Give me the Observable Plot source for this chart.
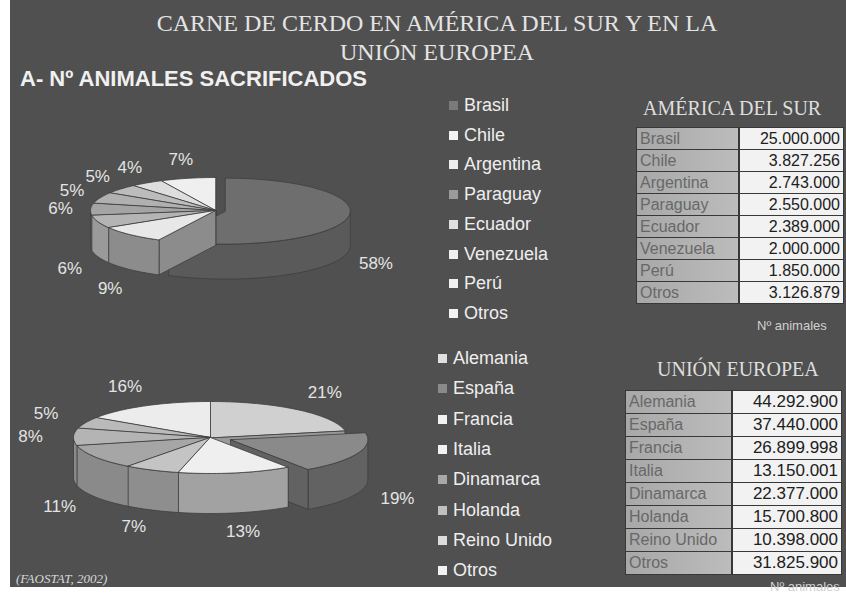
<!DOCTYPE html>
<html><head><meta charset="utf-8">
<script src="https://cdn.jsdelivr.net/npm/d3@7"></script>
<script src="https://cdn.jsdelivr.net/npm/@observablehq/plot@0.6"></script>
<style>
body{margin:0;background:#fff;width:846px;height:593px;overflow:hidden;position:relative;font-family:"Liberation Sans",Arial,sans-serif}
#slide{position:absolute;left:10px;top:0;width:836px;height:587px;background:#505050}
.abs{position:absolute;white-space:nowrap}
.title{font-family:"Liberation Serif","Times New Roman",serif;font-size:24px;color:#e4e4e4;text-align:center;line-height:28px;left:37px;width:800px}
.sub{font-weight:bold;font-size:22px;color:#f0f0f0;left:20px;line-height:24px}
.head{font-family:"Liberation Serif","Times New Roman",serif;font-size:20px;color:#dedede;line-height:24px}
.leg{font-size:18px;color:#eeeeee;line-height:22px}
.sw{display:inline-block;width:9px;height:9px;margin-right:6px;vertical-align:1px}
.tbl{position:absolute;background:#383838;padding:1px 0 0 1px}
.row{display:flex;margin-bottom:1px}
.c1{background:linear-gradient(90deg,#a8a8a8,#bcbcbc);color:#686868;padding-left:3px;box-sizing:border-box;margin-right:2px}
.c2{background:#f2f2f2;color:#202020;text-align:right;padding-right:3px;box-sizing:border-box;margin-right:1px}
.note{font-size:13px;color:#d0d0d0}
.cap{font-family:"Liberation Serif",serif;font-style:italic;font-size:13px;color:#d8d8d8}
</style></head><body>
<div id="slide"></div>
<script>
// ---------- data ----------
const saCountries = ["Brasil","Chile","Argentina","Paraguay","Ecuador","Venezuela","Perú","Otros"];
const saValues = [25000000,3827256,2743000,2550000,2389000,2000000,1850000,3126879];
const saPctLabels = ["58%","9%","6%","6%","5%","5%","4%","7%"];
const euCountries = ["Alemania","España","Francia","Italia","Dinamarca","Holanda","Reino Unido","Otros"];
const euValues = [44292900,37440000,26899998,13150001,22377000,15700800,10398000,31825900];
const euPctLabels = ["21%","19%","13%","7%","11%","8%","5%","16%"];

// ---------- styles ----------
const saTop  = ["#6e6e6e","#e8e8e8","#b4b4b4","#a4a4a4","#b0b0b0","#bcbcbc","#dedede","#efefef"];
const saSide = ["#5a5a5a","#8c8c8c","#9a9a9a","#7a7a7a","#7c7c7c","#808080","#999999","#a0a0a0"];
const saSw   = ["#7a7a7a","#f2f2f2","#eeeeee","#9a9a9a","#e0e0e0","#f0f0f0","#f0f0f0","#f2f2f2"];
const saExplode = [10,0,0,0,0,0,0,0];
const euTop  = ["#d0d0d0","#8a8a8a","#efefef","#c4c4c4","#a6a6a6","#b4b4b4","#bababa","#ececec"];
const euSide = ["#9a9a9a","#626262","#a2a2a2","#8e8e8e","#8a8a8a","#8a8a8a","#909090","#a0a0a0"];
const euSw   = ["#e0e0e0","#8a8a8a","#f2f2f2","#f2f2f2","#a8a8a8","#c0c0c0","#dcdcdc","#f2f2f2"];
const euExplode = [0,22,0,0,0,0,0,0];

const body = d3.select("body");

function pie3d(o) {
  const arcs = d3.pie().sort(null).value(d => d)(o.values);
  const step = Math.PI / 90;
  const rows = [];
  let id = 0;
  const P = (s, t, dz) => ({x: s.ox + o.rx * Math.sin(t), y: s.oy + o.ry * Math.cos(t) - dz});
  const slices = arcs.map((a, i) => {
    const mid = (a.startAngle + a.endAngle) / 2;
    const e = o.explode[i];
    return {i, a0: a.startAngle, a1: a.endAngle, mid,
      ox: e * Math.sin(mid), oy: e * Math.cos(mid) * o.ry / o.rx};
  });
  const arcPts = (s, lo, hi, dz) => {
    const pts = [];
    const n = Math.max(2, Math.ceil((hi - lo) / step));
    for (let k = 0; k <= n; k++) pts.push(P(s, lo + (hi - lo) * k / n, dz));
    return pts;
  };
  const poly = (pts, fill) => { id++; pts.forEach(p => rows.push({id, x: p.x, y: p.y, fill})); };
  const order = slices.slice().sort((a, b) => Math.cos(b.mid) - Math.cos(a.mid));
  for (const s of order) {
    const side = o.side[s.i];
    const c0 = {x: s.ox, y: s.oy}, c1 = {x: s.ox, y: s.oy - o.depth};
    if (Math.sin(s.a0) < -1e-6) poly([c0, P(s, s.a0, 0), P(s, s.a0, o.depth), c1], side);
    if (Math.sin(s.a1) > 1e-6) poly([c0, P(s, s.a1, 0), P(s, s.a1, o.depth), c1], side);
    const lo = Math.max(s.a0, Math.PI / 2), hi = Math.min(s.a1, 3 * Math.PI / 2);
    if (lo < hi) poly([...arcPts(s, lo, hi, 0), ...arcPts(s, lo, hi, o.depth).reverse()], side);
    poly([c0, ...arcPts(s, s.a0, s.a1, 0)], o.top[s.i]);
  }
  const labels = slices.map(s => ({
    x: s.ox + o.lx * Math.sin(s.mid),
    y: s.oy + o.ly * Math.cos(s.mid) - (Math.cos(s.mid) < 0 ? o.ld : 0),
    text: o.labels[s.i]
  }));
  const chart = Plot.plot({
    width: o.width, height: o.height, margin: 0,
    x: {domain: [-o.cx, o.width - o.cx], axis: null},
    y: {domain: [o.cy - o.height, o.cy], axis: null},
    color: {type: "identity"},
    style: {background: "transparent", overflow: "visible"},
    marks: [
      Plot.line(rows, {x: "x", y: "y", z: "id", fill: "fill", stroke: "#3e3e3e", strokeWidth: 0.8, curve: "linear-closed"}),
      Plot.text(labels, {x: "x", y: "y", text: "text", fill: "#e4e4e4", fontSize: 17, fontFamily: "Liberation Sans"})
    ]
  });
  d3.select(chart).style("position", "absolute").style("left", o.left + "px").style("top", o.topPx + "px");
  document.body.appendChild(chart);
}

pie3d({values: saValues, labels: saPctLabels, top: saTop, side: saSide, explode: saExplode,
  rx: 125, ry: 33, depth: 35, lx: 155, ly: 52, ld: 40,
  width: 430, height: 230, cx: 215, cy: 110, left: 0, topPx: 100});
pie3d({values: euValues, labels: euPctLabels, top: euTop, side: euSide, explode: euExplode,
  rx: 137, ry: 36, depth: 40, lx: 180, ly: 58, ld: 37,
  width: 430, height: 247, cx: 210, cy: 97, left: 0, topPx: 340});

// ---------- text ----------
body.append("div").attr("class", "abs title").style("top", "9px").text("CARNE DE CERDO EN AMÉRICA DEL SUR Y EN LA");
body.append("div").attr("class", "abs title").style("top", "38px").text("UNIÓN EUROPEA");
body.append("div").attr("class", "abs sub").style("top", "67px").text("A- Nº ANIMALES SACRIFICADOS");
body.append("div").attr("class", "abs cap").style("left", "16px").style("top", "571px").text("(FAOSTAT, 2002)");

function legend(names, colors, left, top0, gap) {
  names.forEach((n, i) => {
    const d = body.append("div").attr("class", "abs leg").style("left", left + "px").style("top", (top0 + i * gap) + "px");
    d.append("span").attr("class", "sw").style("background", colors[i]);
    d.append("span").text(n);
  });
}
legend(saCountries, saSw, 449, 94, 29.7);
legend(euCountries, euSw, 438, 347, 30.3);

const fmt = d3.formatLocale({decimal: ",", thousands: ".", grouping: [3], currency: ["", ""]}).format(",d");
function table(names, values, left, top, w1, w2, rowH, fs1, fs2) {
  const t = body.append("div").attr("class", "tbl").style("left", left + "px").style("top", top + "px");
  names.forEach((n, i) => {
    const r = t.append("div").attr("class", "row").style("height", rowH + "px").style("line-height", rowH + "px");
    r.append("div").attr("class", "c1").style("width", w1 + "px").style("font-size", fs1 + "px").text(n);
    r.append("div").attr("class", "c2").style("width", w2 + "px").style("font-size", fs2 + "px").text(fmt(values[i]));
  });
}
body.append("div").attr("class", "abs head").style("left", "643px").style("top", "96px").text("AMÉRICA DEL SUR");
table(saCountries, saValues, 636, 127, 101, 103, 21, 16, 16);
body.append("div").attr("class", "abs note").style("left", "757px").style("top", "318px").text("Nº animales");

body.append("div").attr("class", "abs head").style("left", "657px").style("top", "357px").text("UNIÓN EUROPEA");
table(euCountries, euValues, 625, 390, 105, 108, 22, 16, 17);
body.append("div").attr("class", "abs note").style("left", "770px").style("top", "579px").text("Nº animales");
</script>
</body></html>
